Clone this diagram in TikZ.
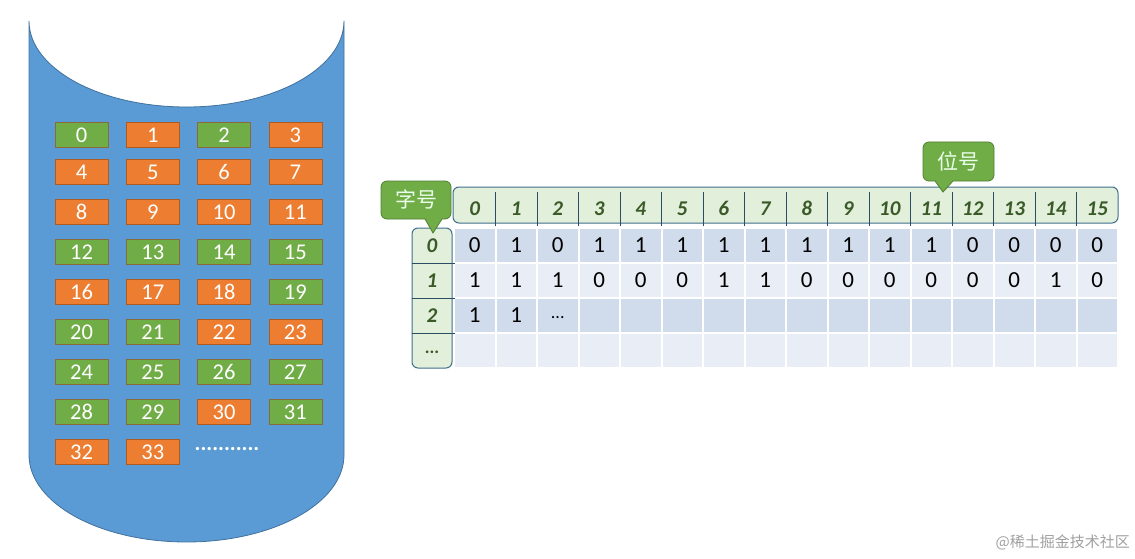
\documentclass[tikz,border=0pt]{standalone}
\usepackage{fontspec}
\setmainfont{Carlito}
\newfontfamily\cjk{Noto Sans CJK SC}
\definecolor{cylblue}{HTML}{5B9BD5}
\definecolor{cylline}{HTML}{41719C}
\definecolor{boxgreen}{HTML}{70AD47}
\definecolor{boxorange}{HTML}{ED7D31}
\definecolor{gborder}{HTML}{8A6A3A}
\definecolor{oborder}{HTML}{AE5A21}
\definecolor{hdrfill}{HTML}{E2EFDA}
\definecolor{hdrline}{HTML}{3E6E8E}
\definecolor{hdrtext}{HTML}{3A5A28}
\definecolor{rowdark}{HTML}{D0DBEB}
\definecolor{rowlight}{HTML}{E9EEF6}
\definecolor{calloutline}{HTML}{507E32}
\definecolor{wmgray}{HTML}{A0A0A0}
\tikzset{
  boxbase/.style={draw, line width=0.8pt, minimum width=53pt, minimum height=25pt, inner sep=0pt, text=white, font=\fontsize{22.5}{26}\selectfont},
  boxG/.style={boxbase, fill=boxgreen, draw=gborder},
  boxO/.style={boxbase, fill=boxorange, draw=oborder},
  hdrnum/.style={text=hdrtext, font=\fontsize{21}{24}\selectfont\bfseries\itshape, inner sep=0pt},
  bitnum/.style={text=black, font=\fontsize{23}{26}\selectfont, inner sep=0pt},
  callout/.style={fill=boxgreen, draw=calloutline, line width=0.8pt},
  callouttext/.style={text=white!92!green, font=\cjk\fontsize{21}{24}\selectfont, inner sep=0pt},
}
\begin{document}
\begin{tikzpicture}[x=1pt,y=-1pt]
\useasboundingbox (0,0) rectangle (1135,559);
% cylinder
\fill[cylblue, draw=cylline, line width=0.8pt] (29,21) -- (29,455)
  arc[start angle=180, end angle=0, x radius=157.5, y radius=87]
  -- (344,21)
  arc[start angle=0, end angle=180, x radius=157.5, y radius=86] -- cycle;
% boxes
\foreach \n/\c in {0/G,1/O,2/G,3/O,4/O,5/O,6/O,7/O,8/O,9/O,10/O,11/O,12/G,13/G,14/G,15/G,16/O,17/O,18/O,19/G,20/G,21/G,22/O,23/O,24/G,25/G,26/G,27/G,28/G,29/G,30/O,31/G,32/O,33/O}{
  \pgfmathtruncatemacro\r{int(\n/4)}
  \pgfmathtruncatemacro\cc{mod(\n,4)}
  \pgfmathsetmacro\yy{\r==0 ? 135 : 172+40*(\r-1)}
  \node[box\c] (b\n) at ({81.5+71.3*\cc},\yy) {\n};
}
\node[text=white, font=\fontsize{22}{26}\selectfont\bfseries, inner sep=0pt] (dots) at (227,449) {...........};
% data cells
\foreach \r in {0,1,2,3}{
  \pgfmathsetmacro\rc{mod(\r,2)==0 ? "rowdark" : "rowlight"}
  \foreach \c in {0,...,15}{
    \fill[\rc] ({454+41.5*\c+1},{228+35*\r+1}) rectangle ({454+41.5*(\c+1)-1},{228+35*(\r+1)-1});
  }
}
% header row
\draw[fill=hdrfill, draw=hdrline, line width=1pt, rounded corners=6pt] (453,187) rectangle (1118,223);
\foreach \c in {1,...,15}{
  \draw[hdrline!70!black, line width=0.9pt] ({454+41.5*\c},192) -- ({454+41.5*\c},226);
}
\foreach \c in {0,...,15}{
  \node[hdrnum] (h\c) at ({454+41.5*(\c+0.5)},208.5) {\c};
}
% row header column
\draw[fill=hdrfill, draw=hdrline, line width=1pt, rounded corners=6pt] (412,228) rectangle (452,368);
\foreach \y in {263,298,333}{
  \draw[hdrline!70!black, line width=0.9pt] (412,\y) -- (455,\y);
}
\node[hdrnum] (r0) at (432,245.5) {0};
\node[hdrnum] (r1) at (432,280.5) {1};
\node[hdrnum] (r2) at (432,315.5) {2};
\node[hdrnum, font=\fontsize{18}{20}\selectfont\bfseries] (r3) at (432,352) {...};
% bits
\foreach \v [count=\i from 0] in {0,1,0,1,1,1,1,1,1,1,1,1,0,0,0,0}{
  \node[bitnum] (a\i) at ({454+41.5*(\i+0.5)},245.5) {\v};
}
\foreach \v [count=\i from 0] in {1,1,1,0,0,0,1,1,0,0,0,0,0,0,1,0}{
  \node[bitnum] (s\i) at ({454+41.5*(\i+0.5)},280.5) {\v};
}
\node[bitnum] (t0) at (474.75,315.5) {1};
\node[bitnum] (t1) at (516.25,315.5) {1};
\node[bitnum, font=\fontsize{18}{20}\selectfont] (t2) at (557.75,318) {...};
% callouts
\draw[callout, rounded corners=6pt] (416,181) -- (451,181) -- (451,219) [sharp corners] -- (442,219) -- (433,233) -- (425,219) [rounded corners=6pt] -- (381,219) -- (381,181) -- cycle;
\node[callouttext] (zihao) at (416,199) {字号};
\draw[callout, rounded corners=6pt] (958,142) -- (994,142) -- (994,181) [sharp corners] -- (953,181) -- (943,192) -- (935,181) [rounded corners=6pt] -- (923,181) -- (923,142) -- cycle;
\node[callouttext] (weihao) at (958.5,161) {位号};
% watermark
\node[text=wmgray, font=\cjk\fontsize{15}{18}\selectfont, inner sep=0pt, anchor=east] (wm) at (1130,542) {@稀土掘金技术社区};
\end{tikzpicture}
\end{document}
